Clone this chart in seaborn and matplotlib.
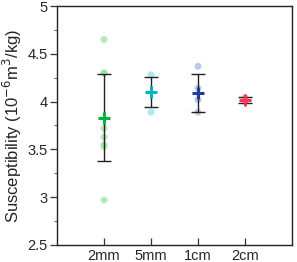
import numpy as np
import pandas as pd
import matplotlib
matplotlib.use('Agg')
import matplotlib.pyplot as plt
from matplotlib.ticker import MultipleLocator
import seaborn as sns

# datos
grupos = ['2mm', '5mm', '1cm', '2cm']
val_2mm = [4.65, 4.30, 4.30, 3.72, 3.63, 3.55, 3.53, 2.97]
val_5mm = [4.28, 3.89]
val_1cm = [4.37, 4.14, 4.02, 3.89]
val_2cm = [4.00, 4.04]
medias = [3.83, 4.10, 4.09, 4.02]
desv = [0.455, 0.155, 0.195, 0.03]

col_puntos = ['#9fe0a8', '#8fe3ea', '#a9b8e0', '#ff9aa8']
col_media = ['#00b33c', '#00b3c2', '#1f3d99', '#ff3355']

filas = []
for g, vals in zip(grupos, [val_2mm, val_5mm, val_1cm, val_2cm]):
    for v in vals:
        filas.append({'grupo': g, 'valor': v})
df = pd.DataFrame(filas)

sns.set_style('ticks')
plt.rcParams['font.family'] = ['Liberation Sans', 'DejaVu Sans']

fig, ax = plt.subplots(figsize=(2.97, 2.62), dpi=100)
fig.subplots_adjust(left=0.192, right=0.983, top=0.977, bottom=0.065)

sns.stripplot(data=df, x='grupo', y='valor', hue='grupo', order=grupos,
              palette=col_puntos, jitter=False, size=5, alpha=0.75,
              legend=False, ax=ax, zorder=2)

for i, g in enumerate(grupos):
    ax.errorbar(i, medias[i], yerr=desv[i], fmt='none', ecolor='#222222',
                elinewidth=1.0, capsize=5, capthick=1.0, zorder=3)
    ax.plot(i, medias[i], marker='+', color=col_media[i], markersize=9,
            markeredgewidth=2.2, zorder=4)

ax.set_xlim(-1, 4)
ax.set_ylim(2.5, 5)
ax.set_yticks([2.5, 3, 3.5, 4, 4.5, 5])
ax.set_yticklabels(['2.5', '3', '3.5', '4', '4.5', '5'])
ax.yaxis.set_minor_locator(MultipleLocator(0.25))
ax.set_xlabel('')
ax.set_ylabel('Susceptibility (10$^{-6}$m$^{3}$/kg)', fontsize=12, labelpad=3)
ax.tick_params(axis='y', labelsize=10.5, length=5, width=0.9, color='#333333', pad=1.5)
ax.tick_params(axis='y', which='minor', length=2.5, width=0.7, color='#555555')
ax.tick_params(axis='x', direction='in', labelsize=10.5, length=5, width=0.9,
               color='#333333', pad=3)
for s in ax.spines.values():
    s.set_visible(True)
    s.set_linewidth(1.0)
    s.set_color('#222222')

plt.savefig('out.png', dpi=100)
plt.close()
